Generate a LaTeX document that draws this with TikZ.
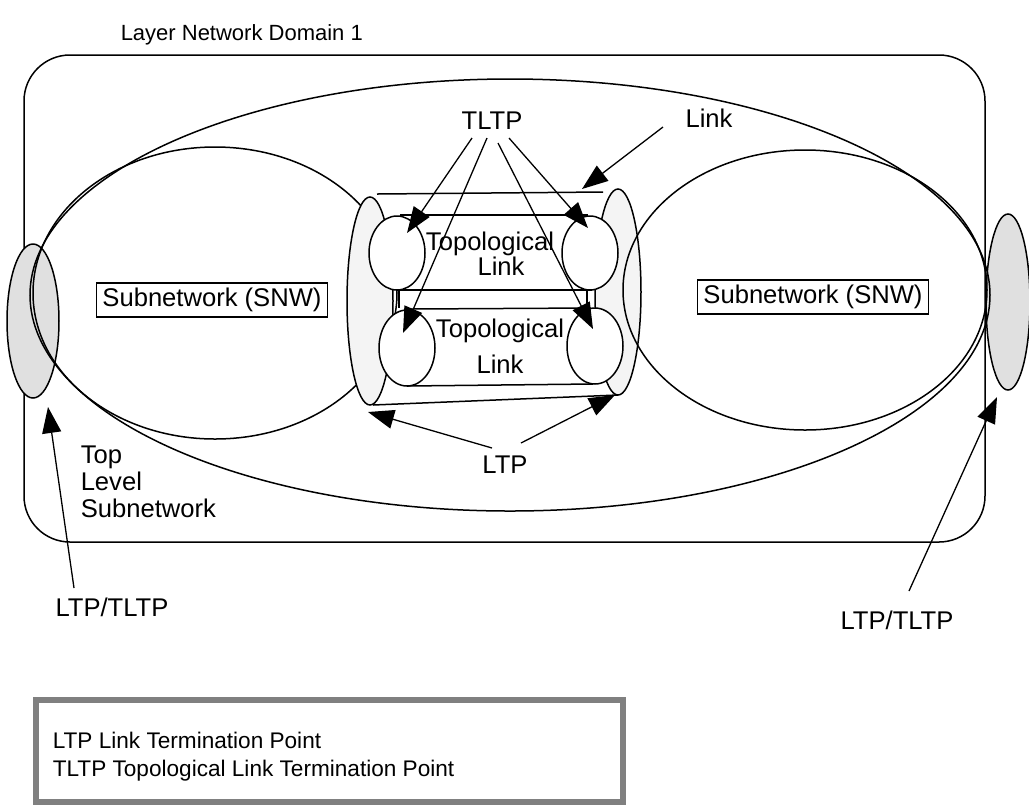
\documentclass[tikz,border=0pt]{standalone}
\usepackage{fontspec}
\setmainfont{Liberation Sans}
\usetikzlibrary{arrows.meta}

\definecolor{tpgray}{RGB}{224,224,224}
\definecolor{cylgray}{RGB}{244,244,244}
\definecolor{boxgray}{RGB}{128,128,128}

\begin{document}
\begin{tikzpicture}[x=0.5pt, y=-0.5pt, line width=0.75pt,
	lbl/.style={font=\fontsize{12.8}{15}\selectfont, inner sep=0pt, anchor=base},
	small/.style={font=\fontsize{11.3}{13}\selectfont, inner sep=0pt, anchor=base west},
	snwbox/.style={draw, font=\fontsize{12.8}{15}\selectfont, inner xsep=3pt, inner ysep=0pt, minimum height=17pt},
	pointer/.style={-{Triangle[length=13pt,width=9.5pt]}, line width=0.65pt}]
	
	\useasboundingbox (0,0) rectangle (1029,811);
	
	% Define coordinates
	\coordinate (TL1) at (472,138);  \coordinate (TH1) at (407,233);
	\coordinate (TL2) at (487,138);  \coordinate (TH2) at (403,333);
	\coordinate (TL3) at (498,143);  \coordinate (TH3) at (593,329);
	\coordinate (TL4) at (509,138);  \coordinate (TH4) at (588,228);
	\coordinate (LK) at (663,127);   \coordinate (LKH) at (582,189);
	\coordinate (LP1) at (492,448);  \coordinate (LPH1) at (368,412);
	\coordinate (LP2) at (521,443);  \coordinate (LPH2) at (615,395);
	\coordinate (EL) at (74,588);    \coordinate (ELH) at (48,407);
	\coordinate (ER) at (909,591);   \coordinate (ERH) at (997,397);
	
	% Right end point and layer network domain
	\draw[fill=tpgray] (1008,302) ellipse [x radius=22, y radius=88];
	\draw[rounded corners=23pt] (24,55) rectangle (985,542);
	\draw[fill=tpgray] (33,321) ellipse [x radius=26, y radius=77];
	
	% Top level subnetwork and subnetworks
	\draw (510,295) ellipse [x radius=480, y radius=216];
	\draw (215,293) ellipse [x radius=182, y radius=146];
	\draw[fill=cylgray] (370,301) ellipse [x radius=23, y radius=104];
	\draw[fill=cylgray] (618,292) ellipse [x radius=23, y radius=103];
	\draw (805,290) ellipse [x radius=182, y radius=140];
	
	% Link (cylinder)
	\draw (377,194) -- (603,192);
	\draw (373,405) -- (618,395);
	
	% Topological links
	\draw[fill=white] (397,253) ellipse [x radius=28, y radius=37];
	\draw[fill=white] (590,253) ellipse [x radius=28, y radius=37];
	\draw (400,215) -- (588,215);
	\draw (397,290) -- (592,290);
	\draw (399,290) -- (399,308);
	\draw (587,290) -- (587,308);
	\draw[fill=white] (407,348) ellipse [x radius=28, y radius=38];
	\draw[fill=white] (595,346) ellipse [x radius=28, y radius=38];
	\draw (411,309) -- (591,308);
	\draw (407,386) -- (593,384);
	
	% Labels
	\node[small, font=\fontsize{11}{13}\selectfont] (title) at (120,40) {Layer Network Domain 1};
	\node[lbl] (tltp) at (492,129) {TLTP};
	\node[lbl] (link) at (709,127) {Link};
	\node[lbl] (topoA) at (490,250) {Topological};
	\node[lbl] (linkA) at (501,275) {Link};
	\node[lbl] (topoB) at (500,337) {Topological};
	\node[lbl] (linkB) at (500,373) {Link};
	\node[snwbox] (snwL) at (212,300) {Subnetwork (SNW)};
	\node[snwbox] (snwR) at (813,297) {Subnetwork (SNW)};
	\node[lbl] (ltp) at (505,473) {LTP};
	\node[lbl, anchor=north west, align=left, font=\fontsize{12.8}{13.5}\selectfont] (toplevel) at (80,445) {Top\\Level\\Subnetwork};
	\node[lbl] (endL) at (112,616) {LTP/TLTP};
	\node[lbl] (endR) at (897,629) {LTP/TLTP};
	
	% Pointers
	\draw[pointer] (TL1) -- (TH1);
	\draw[pointer] (TL2) -- (TH2);
	\draw[pointer] (TL3) -- (TH3);
	\draw[pointer] (TL4) -- (TH4);
	\draw[pointer] (LK) -- (LKH);
	\draw[pointer] (LP1) -- (LPH1);
	\draw[pointer] (LP2) -- (LPH2);
	\draw[pointer] (EL) -- (ELH);
	\draw[pointer] (ER) -- (ERH);
	
	% Legend
	\draw[boxgray, line width=3pt] (36,700) rectangle (623,802);
	\node[small] (ltpdef) at (52,748) {LTP Link Termination Point};
	\node[small] (tltpdef) at (52,776) {TLTP Topological Link Termination Point};
\end{tikzpicture}
\end{document}
